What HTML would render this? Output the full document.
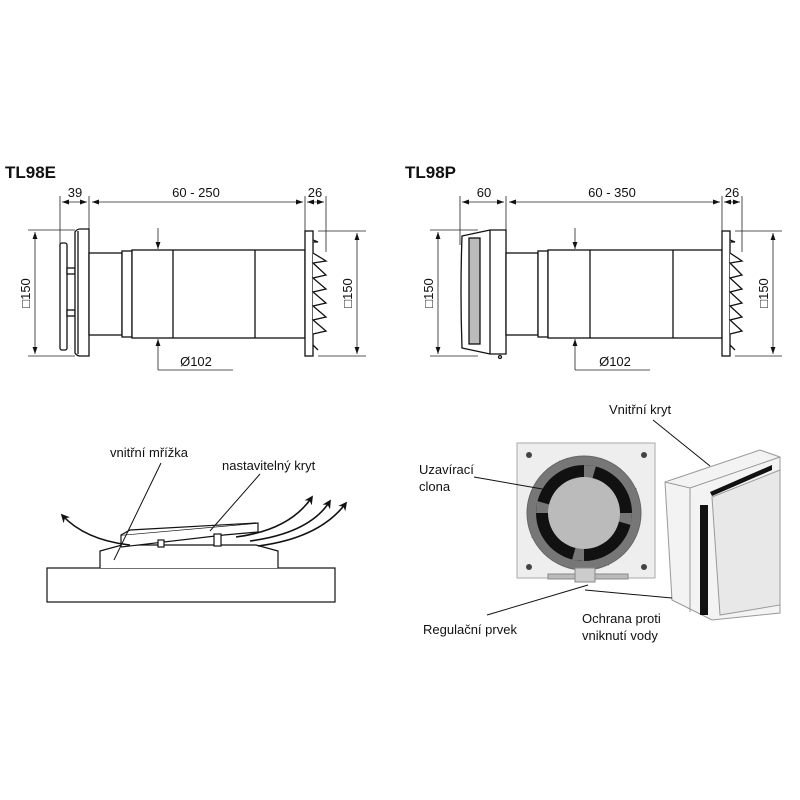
<!DOCTYPE html>
<html><head><meta charset="utf-8"><style>
html,body{margin:0;padding:0;background:#fff}
svg{display:block}
text{font-family:"Liberation Sans",sans-serif;fill:#111}
</style></head><body>
<svg width="800" height="800" viewBox="0 0 800 800" xmlns="http://www.w3.org/2000/svg">
<defs>
<marker id="a" viewBox="0 0 10 10" refX="10" refY="5" markerWidth="9" markerHeight="9" orient="auto-start-reverse"><path d="M0,1.5 L10,5 L0,8.5 z" fill="#111"/></marker>
<marker id="b" viewBox="0 0 10 10" refX="8" refY="5" markerWidth="5.5" markerHeight="5.5" orient="auto"><path d="M0,0 L10,5 L0,10 L3,5 z" fill="#111"/></marker>
</defs>

<!-- TL98E -->
<text x="5" y="178" font-size="17" font-weight="bold">TL98E</text>
<g stroke="#222" stroke-width="0.8" fill="none">
<line x1="60" y1="196" x2="60" y2="245"/><line x1="89" y1="196" x2="89" y2="230"/>
<line x1="305" y1="196" x2="305" y2="232"/><line x1="326" y1="196" x2="326" y2="252"/>
<line x1="62" y1="202" x2="87" y2="202" marker-start="url(#a)" marker-end="url(#a)"/>
<line x1="92" y1="202" x2="303" y2="202" marker-start="url(#a)" marker-end="url(#a)"/>
<line x1="307" y1="202" x2="324" y2="202" marker-start="url(#a)" marker-end="url(#a)"/>
<line x1="28" y1="230" x2="75" y2="230"/><line x1="28" y1="356" x2="75" y2="356"/>
<line x1="35" y1="232" x2="35" y2="354" marker-start="url(#a)" marker-end="url(#a)"/>
<line x1="318" y1="231" x2="366" y2="231"/><line x1="318" y1="356" x2="366" y2="356"/>
<line x1="357" y1="233" x2="357" y2="354" marker-start="url(#a)" marker-end="url(#a)"/>
<line x1="158" y1="228" x2="158" y2="249" marker-end="url(#a)"/>
<line x1="158" y1="370" x2="158" y2="339" marker-end="url(#a)"/>
<line x1="158" y1="370" x2="233" y2="370"/>
</g>
<g stroke="#111" stroke-width="1.3" fill="#fff">
<rect x="60" y="243" width="7" height="107" rx="2"/>
<rect x="67" y="268" width="8" height="6"/><rect x="67" y="310" width="8" height="6"/>
<path d="M75,232 Q77,229 80,229 L89,229 L89,356 L80,356 Q77,356 75,353 Z"/>
<line x1="78" y1="231" x2="78" y2="354"/>
<rect x="89" y="253" width="33" height="82"/>
<rect x="122" y="251" width="10" height="86"/>
<rect x="132" y="250" width="173" height="88"/>
<line x1="173" y1="250" x2="173" y2="338"/><line x1="255" y1="250" x2="255" y2="338"/>
<rect x="305" y="231" width="8" height="125"/>
<path d="M313,240 L318,242 L313,242 M313,253 L326,261 L313,263 L326,275 L313,278 L326,289 L313,292 L326,303 L313,306 L326,317 L313,320 L326,331 L313,334 M313,345 L318,350"/>
</g>
<text transform="translate(30,293) rotate(-90)" font-size="13" text-anchor="middle">□150</text>
<text transform="translate(352,293) rotate(-90)" font-size="13" text-anchor="middle">□150</text>
<text x="75" y="197" font-size="13" text-anchor="middle">39</text>
<text x="196" y="197" font-size="13" text-anchor="middle">60 - 250</text>
<text x="315" y="197" font-size="13" text-anchor="middle">26</text>
<text x="196" y="366" font-size="13" text-anchor="middle">Ø102</text>

<!-- TL98P -->
<text x="405" y="178" font-size="17" font-weight="bold">TL98P</text>
<g stroke="#222" stroke-width="0.8" fill="none">
<line x1="460" y1="196" x2="460" y2="245"/><line x1="506" y1="196" x2="506" y2="230"/>
<line x1="722" y1="196" x2="722" y2="232"/><line x1="742" y1="196" x2="742" y2="252"/>
<line x1="462" y1="202" x2="504" y2="202" marker-start="url(#a)" marker-end="url(#a)"/>
<line x1="509" y1="202" x2="720" y2="202" marker-start="url(#a)" marker-end="url(#a)"/>
<line x1="724" y1="202" x2="740" y2="202" marker-start="url(#a)" marker-end="url(#a)"/>
<line x1="430" y1="230" x2="478" y2="230"/><line x1="430" y1="356" x2="478" y2="356"/>
<line x1="438" y1="232" x2="438" y2="354" marker-start="url(#a)" marker-end="url(#a)"/>
<line x1="735" y1="231" x2="782" y2="231"/><line x1="735" y1="356" x2="782" y2="356"/>
<line x1="773" y1="233" x2="773" y2="354" marker-start="url(#a)" marker-end="url(#a)"/>
<line x1="575" y1="228" x2="575" y2="249" marker-end="url(#a)"/>
<line x1="575" y1="370" x2="575" y2="339" marker-end="url(#a)"/>
<line x1="575" y1="370" x2="650" y2="370"/>
</g>
<g stroke="#111" stroke-width="1.3" fill="#fff">
<path d="M462,236 L490,230 L506,230 L506,354 L490,354 L462,348 Q460,292 462,236 Z"/>
<rect x="469" y="238" width="11" height="106" fill="#bbb"/>
<line x1="490" y1="230" x2="490" y2="354"/>
<circle cx="500" cy="357" r="1.5"/>
<rect x="506" y="253" width="32" height="82"/>
<rect x="538" y="251" width="10" height="86"/>
<rect x="548" y="250" width="174" height="88"/>
<line x1="590" y1="250" x2="590" y2="338"/><line x1="673" y1="250" x2="673" y2="338"/>
<rect x="722" y="231" width="8" height="125"/>
<path d="M730,240 L735,242 L730,242 M730,253 L742,261 L730,263 L742,275 L730,278 L742,289 L730,292 L742,303 L730,306 L742,317 L730,320 L742,331 L730,334 M730,345 L735,350"/>
</g>
<text transform="translate(433,293) rotate(-90)" font-size="13" text-anchor="middle">□150</text>
<text transform="translate(768,293) rotate(-90)" font-size="13" text-anchor="middle">□150</text>
<text x="484" y="197" font-size="13" text-anchor="middle">60</text>
<text x="612" y="197" font-size="13" text-anchor="middle">60 - 350</text>
<text x="732" y="197" font-size="13" text-anchor="middle">26</text>
<text x="615" y="366" font-size="13" text-anchor="middle">Ø102</text>

<!-- bottom left -->
<g stroke="#111" stroke-width="1.2" fill="#fff">
<rect x="47" y="568" width="288" height="34"/>
<path d="M100,568 L100,551 L122,545 L256,545 L278,551 L278,568"/>
<path d="M121,547 L121,535 L258,523 L258,532 L224,535 L121,547"/>
<path d="M121,535 L130,530 L256,523"/>
<rect x="158" y="540" width="6" height="7"/><rect x="214" y="534" width="7" height="12"/>
</g>
<g stroke="#111" stroke-width="1.6" fill="none" marker-end="url(#b)">
<path d="M130,545 Q85,540 62,515"/>
<path d="M236,537 Q290,530 312,497"/>
<path d="M250,541 Q310,533 330,501"/>
<path d="M258,546 Q320,538 346,503"/>
</g>
<g stroke="#111" stroke-width="1" fill="none">
<line x1="161" y1="463" x2="114" y2="560"/>
<line x1="260" y1="474" x2="210" y2="531"/>
</g>
<text x="110" y="457" font-size="13">vnitřní mřížka</text>
<text x="222" y="470" font-size="13">nastavitelný kryt</text>

<!-- bottom right -->
<rect x="517" y="443" width="138" height="135" fill="#eee" stroke="#aaa"/>
<g fill="#444">
<circle cx="529" cy="455" r="3"/><circle cx="644" cy="455" r="3"/>
<circle cx="529" cy="567" r="3"/><circle cx="644" cy="567" r="3"/>
</g>
<rect x="543" y="472" width="82" height="82" fill="#222" transform="rotate(20 584 513)"/>
<circle cx="584" cy="513" r="57" fill="#777" stroke="#666"/>
<circle cx="584" cy="513" r="48" fill="#111"/>
<g fill="#777">
<path d="M584,465 L596,466 L592,480 L584,480 Z" transform="rotate(0 584 513)"/>
<path d="M584,465 L596,466 L592,480 L584,480 Z" transform="rotate(90 584 513)"/>
<path d="M584,465 L596,466 L592,480 L584,480 Z" transform="rotate(180 584 513)"/>
<path d="M584,465 L596,466 L592,480 L584,480 Z" transform="rotate(270 584 513)"/>
</g>
<circle cx="584" cy="513" r="36" fill="#bbb"/>
<rect x="548" y="574" width="80" height="5" fill="#bbb" stroke="#888"/>
<rect x="575" y="568" width="20" height="14" fill="#ccc" stroke="#888"/>
<g stroke="#999" stroke-width="1" fill="#f3f3f3">
<path d="M665,482 L760,450 L780,457 L780,613 L712,620 L672,600 Z"/>
<path d="M665,482 L690,488 L780,457"/>
<path d="M690,488 L690,612"/>
<path d="M712,497 L780,470 L780,605 L720,615 Z" fill="#e8e8e8"/>
</g>
<path d="M710,492 L772,465 L772,470 L712,496 Z" fill="#111"/>
<rect x="700" y="505" width="8" height="110" fill="#111"/>
<g stroke="#111" stroke-width="1" fill="none">
<line x1="653" y1="420" x2="710" y2="466"/>
<line x1="474" y1="477" x2="548" y2="490"/>
<line x1="487" y1="615" x2="588" y2="585"/>
<line x1="585" y1="590" x2="672" y2="598"/>
</g>
<text x="609" y="414" font-size="13">Vnitřní kryt</text>
<text x="419" y="474" font-size="13">Uzavírací</text>
<text x="419" y="491" font-size="13">clona</text>
<text x="423" y="634" font-size="13">Regulační prvek</text>
<text x="582" y="623" font-size="13">Ochrana proti</text>
<text x="582" y="640" font-size="13">vniknutí vody</text>
</svg>
</body></html>
